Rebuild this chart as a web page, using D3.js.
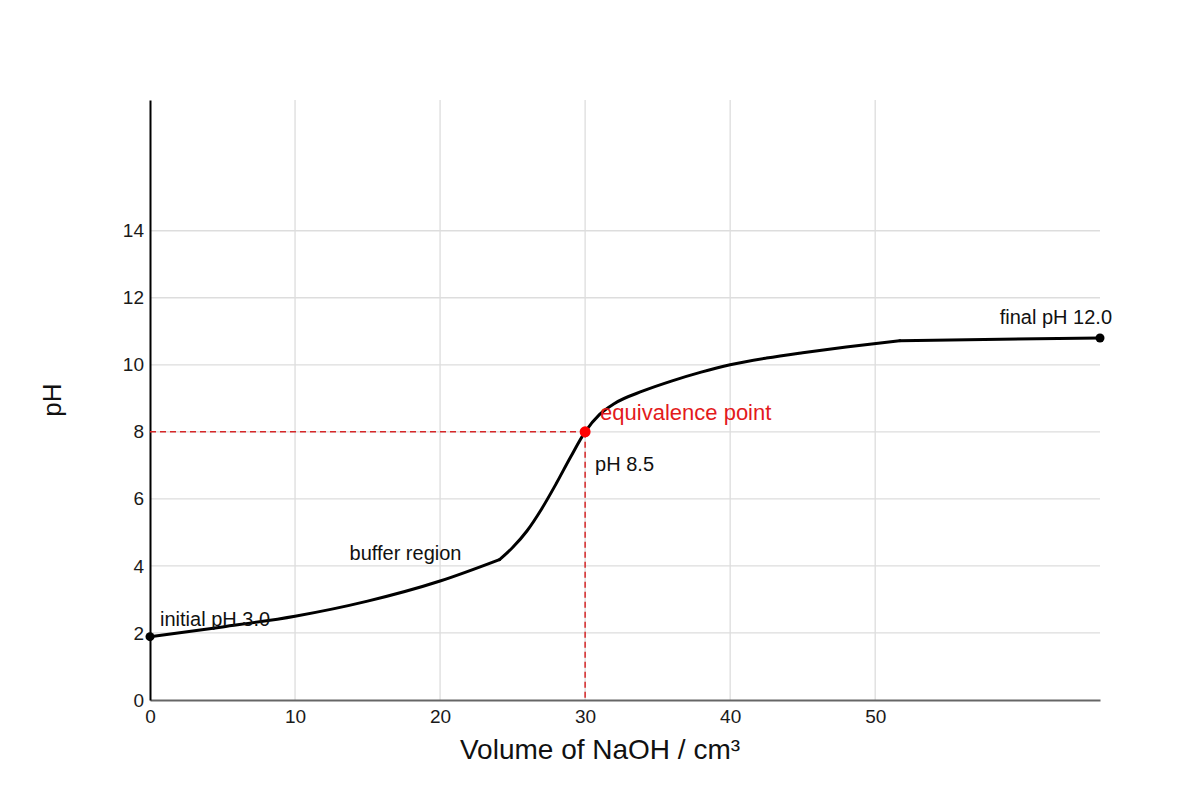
<!DOCTYPE html>
<html>
<head>
<meta charset="utf-8">
<script src="https://cdn.jsdelivr.net/npm/d3@7/dist/d3.min.js"></script>
<style>
  html, body { margin: 0; padding: 0; background: #fff; }
  svg { display: block; font-family: "Liberation Sans", Arial, sans-serif; }
</style>
</head>
<body>
<svg id="chart" width="1200" height="800"></svg>
<script>
// ---- data ----
const volume = [0, 5, 10, 15, 20, 24.1,
                25, 26, 27, 28, 29, 30, 31, 32, 34, 36, 38, 40, 42.5, 45, 48, 51.7,
                65.5];
const pH =     [1.89, 2.18, 2.5, 2.95, 3.55, 4.19,
                4.55, 5.05, 5.7, 6.45, 7.25, 8.0, 8.52, 8.84, 9.22, 9.52, 9.78, 10.0, 10.2, 10.36, 10.53, 10.72,
                10.8];
const segmentBreaks = [24.1, 51.7];   // corners in the curve
const xTicks = [0, 10, 20, 30, 40, 50];
const yTicks = [0, 2, 4, 6, 8, 10, 12, 14];
const xDomain = [0, 65.5];
const yDomain = [0, 17.9];
const equivalence = { volume: 30, pH: 8.0 };
const labels = {
  initial: "initial pH 3.0",
  buffer: "buffer region",
  equivalence: "equivalence point",
  equivalencePH: "pH 8.5",
  final: "final pH 12.0",
  xTitle: "Volume of NaOH / cm³",
  yTitle: "pH"
};

// ---- layout ----
const svg = d3.select("#chart");
const margin = { left: 150, right: 100, top: 100, bottom: 100 };
const W = 1200, H = 800;
const x = d3.scaleLinear().domain(xDomain).range([margin.left, W - margin.right]);
const y = d3.scaleLinear().domain(yDomain).range([H - margin.bottom, margin.top]);

// gridlines
const grid = svg.append("g");
grid.selectAll("line.v").data(xTicks.filter(d => d !== 0)).join("line")
  .attr("x1", d => x(d)).attr("x2", d => x(d))
  .attr("y1", y(yDomain[0])).attr("y2", y(yDomain[1]))
  .attr("stroke", "#dddddd").attr("stroke-width", 1.3);
grid.selectAll("line.h").data(yTicks.filter(d => d !== 0)).join("line")
  .attr("x1", x(xDomain[0])).attr("x2", x(xDomain[1]))
  .attr("y1", d => y(d)).attr("y2", d => y(d))
  .attr("stroke", "#dddddd").attr("stroke-width", 1.3);

// axes
const xAxis = svg.append("g")
  .attr("transform", `translate(0,${y(0)})`)
  .call(d3.axisBottom(x).tickValues(xTicks).tickSize(0).tickPadding(10).tickFormat(d3.format("d")));
xAxis.select(".domain").attr("stroke", "#666").attr("stroke-width", 2);
xAxis.selectAll("text").attr("font-size", 19).attr("fill", "#1a1a1a")
  .attr("font-family", "Liberation Sans, Arial, sans-serif");

const yAxis = svg.append("g")
  .attr("transform", `translate(${x(0)},0)`)
  .call(d3.axisLeft(y).tickValues(yTicks).tickSize(0).tickPadding(6).tickFormat(d3.format("d")));
yAxis.select(".domain").attr("stroke", "#000").attr("stroke-width", 2);
yAxis.selectAll("text").attr("font-size", 19).attr("fill", "#1a1a1a")
  .attr("font-family", "Liberation Sans, Arial, sans-serif");

// axis titles
svg.append("text")
  .attr("x", W / 2).attr("y", 759)
  .attr("text-anchor", "middle").attr("font-size", 28).attr("fill", "#111")
  .text(labels.xTitle);
svg.append("text")
  .attr("transform", `translate(61,${H / 2}) rotate(-90)`)
  .attr("text-anchor", "middle").attr("font-size", 26).attr("fill", "#111")
  .text(labels.yTitle);

// dashed guides to the equivalence point
svg.append("line")
  .attr("x1", x(0)).attr("x2", x(equivalence.volume))
  .attr("y1", y(equivalence.pH)).attr("y2", y(equivalence.pH))
  .attr("stroke", "#d62728").attr("stroke-width", 1.5).attr("stroke-dasharray", "6,4");
svg.append("line")
  .attr("x1", x(equivalence.volume)).attr("x2", x(equivalence.volume))
  .attr("y1", y(equivalence.pH)).attr("y2", y(0))
  .attr("stroke", "#d62728").attr("stroke-width", 1.5).attr("stroke-dasharray", "6,4");

// titration curve, drawn in segments split at the corners
const pts = volume.map((v, i) => ({ v, p: pH[i] }));
const bounds = [xDomain[0], ...segmentBreaks, xDomain[1]];
const line = d3.line().x(d => x(d.v)).y(d => y(d.p)).curve(d3.curveMonotoneX);
for (let s = 0; s < bounds.length - 1; s++) {
  const seg = pts.filter(d => d.v >= bounds[s] && d.v <= bounds[s + 1]);
  svg.append("path").datum(seg)
    .attr("d", line).attr("fill", "none")
    .attr("stroke", "#000").attr("stroke-width", 3)
    .attr("stroke-linejoin", "round").attr("stroke-linecap", "round");
}

// markers
const first = pts[0], last = pts[pts.length - 1];
const kink = pts.find(d => d.v === segmentBreaks[0]);
svg.append("circle").attr("cx", x(first.v)).attr("cy", y(first.p)).attr("r", 4.5).attr("fill", "#000");
svg.append("circle").attr("cx", x(last.v)).attr("cy", y(last.p)).attr("r", 4.5).attr("fill", "#000");
svg.append("circle").attr("cx", x(equivalence.volume)).attr("cy", y(equivalence.pH)).attr("r", 5.5).attr("fill", "#ff0000");

// annotations
svg.append("text").attr("x", x(first.v) + 10).attr("y", y(first.p) - 11)
  .attr("font-size", 20).attr("fill", "#111").text(labels.initial);
svg.append("text").attr("x", x(kink.v) - 150).attr("y", y(kink.p))
  .attr("font-size", 20).attr("fill", "#111").text(labels.buffer);
svg.append("text").attr("x", x(equivalence.volume) + 15).attr("y", y(equivalence.pH) - 12)
  .attr("font-size", 22).attr("fill", "#e31a1c").text(labels.equivalence);
svg.append("text").attr("x", x(equivalence.volume) + 10).attr("y", y(equivalence.pH) + 39)
  .attr("font-size", 20).attr("fill", "#111").text(labels.equivalencePH);
svg.append("text").attr("x", x(last.v) + 12).attr("y", y(last.p) - 14)
  .attr("text-anchor", "end").attr("font-size", 20).attr("fill", "#111").text(labels.final);
</script>
</body>
</html>
